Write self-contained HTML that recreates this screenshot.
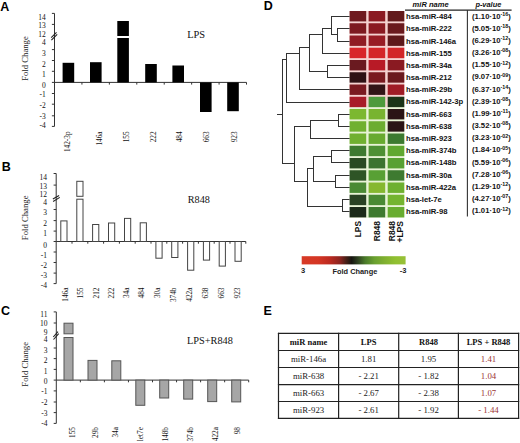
<!DOCTYPE html>
<html><head><meta charset="utf-8"><title>Figure</title>
<style>html,body{margin:0;padding:0;background:#fff;}body{width:520px;height:443px;overflow:hidden;font-family:"Liberation Sans",sans-serif;}svg{display:block}</style>
</head><body>
<svg width="520" height="443" viewBox="0 0 520 443">
<rect x="0" y="0" width="520" height="443" fill="#fff"/>
<text x="0.20" y="10.50" font-family='"Liberation Sans", sans-serif' font-size="12.5" font-weight="bold" text-anchor="start" fill="#000">A</text>
<text x="1.80" y="170.60" font-family='"Liberation Sans", sans-serif' font-size="12.5" font-weight="bold" text-anchor="start" fill="#000">B</text>
<text x="1.00" y="314.50" font-family='"Liberation Sans", sans-serif' font-size="12.5" font-weight="bold" text-anchor="start" fill="#000">C</text>
<text x="263.80" y="9.90" font-family='"Liberation Sans", sans-serif' font-size="12.5" font-weight="bold" text-anchor="start" fill="#000">D</text>
<text x="263.40" y="314.90" font-family='"Liberation Sans", sans-serif' font-size="12.5" font-weight="bold" text-anchor="start" fill="#000">E</text>
<line x1="54.50" y1="13.40" x2="54.50" y2="126.40" stroke="#333" stroke-width="1"/>
<line x1="51.90" y1="13.40" x2="54.50" y2="13.40" stroke="#333" stroke-width="1"/>
<line x1="51.90" y1="24.40" x2="54.50" y2="24.40" stroke="#333" stroke-width="1"/>
<line x1="51.90" y1="49.60" x2="54.50" y2="49.60" stroke="#333" stroke-width="1"/>
<line x1="51.90" y1="60.50" x2="54.50" y2="60.50" stroke="#333" stroke-width="1"/>
<line x1="51.90" y1="71.30" x2="54.50" y2="71.30" stroke="#333" stroke-width="1"/>
<line x1="51.90" y1="82.40" x2="54.50" y2="82.40" stroke="#333" stroke-width="1"/>
<line x1="51.90" y1="93.50" x2="54.50" y2="93.50" stroke="#333" stroke-width="1"/>
<line x1="51.90" y1="104.20" x2="54.50" y2="104.20" stroke="#333" stroke-width="1"/>
<line x1="51.90" y1="115.80" x2="54.50" y2="115.80" stroke="#333" stroke-width="1"/>
<line x1="51.90" y1="126.40" x2="54.50" y2="126.40" stroke="#333" stroke-width="1"/>
<text x="45.80" y="19.60" font-family='"Liberation Serif", serif' font-size="7.5" font-weight="normal" text-anchor="end" fill="#111">14</text>
<text x="45.80" y="28.20" font-family='"Liberation Serif", serif' font-size="7.5" font-weight="normal" text-anchor="end" fill="#111">13</text>
<text x="45.80" y="36.80" font-family='"Liberation Serif", serif' font-size="7.5" font-weight="normal" text-anchor="end" fill="#111">12</text>
<text x="45.80" y="45.40" font-family='"Liberation Serif", serif' font-size="7.5" font-weight="normal" text-anchor="end" fill="#111">4</text>
<text x="45.80" y="56.30" font-family='"Liberation Serif", serif' font-size="7.5" font-weight="normal" text-anchor="end" fill="#111">3</text>
<text x="45.80" y="66.80" font-family='"Liberation Serif", serif' font-size="7.5" font-weight="normal" text-anchor="end" fill="#111">2</text>
<text x="45.80" y="77.40" font-family='"Liberation Serif", serif' font-size="7.5" font-weight="normal" text-anchor="end" fill="#111">1</text>
<text x="45.80" y="87.50" font-family='"Liberation Serif", serif' font-size="7.5" font-weight="normal" text-anchor="end" fill="#111">0</text>
<text x="45.80" y="97.40" font-family='"Liberation Serif", serif' font-size="7.5" font-weight="normal" text-anchor="end" fill="#111">-1</text>
<text x="45.80" y="108.10" font-family='"Liberation Serif", serif' font-size="7.5" font-weight="normal" text-anchor="end" fill="#111">-2</text>
<text x="45.80" y="118.80" font-family='"Liberation Serif", serif' font-size="7.5" font-weight="normal" text-anchor="end" fill="#111">-3</text>
<text x="45.80" y="128.40" font-family='"Liberation Serif", serif' font-size="7.5" font-weight="normal" text-anchor="end" fill="#111">-4</text>
<line x1="51.20" y1="37.70" x2="56.50" y2="32.40" stroke="#222" stroke-width="1.1"/>
<line x1="51.40" y1="40.20" x2="57.20" y2="34.40" stroke="#222" stroke-width="1.1"/>
<text transform="translate(28.30,58.50) rotate(-90)" font-family='"Liberation Serif", serif' font-size="8.7" text-anchor="middle" fill="#1a1a1a">Fold Change</text>
<line x1="54.50" y1="82.40" x2="246.51" y2="82.40" stroke="#333" stroke-width="1"/>
<line x1="81.93" y1="82.40" x2="81.93" y2="84.60" stroke="#333" stroke-width="1"/>
<line x1="109.36" y1="82.40" x2="109.36" y2="84.60" stroke="#333" stroke-width="1"/>
<line x1="136.79" y1="82.40" x2="136.79" y2="84.60" stroke="#333" stroke-width="1"/>
<line x1="164.22" y1="82.40" x2="164.22" y2="84.60" stroke="#333" stroke-width="1"/>
<line x1="191.65" y1="82.40" x2="191.65" y2="84.60" stroke="#333" stroke-width="1"/>
<line x1="219.08" y1="82.40" x2="219.08" y2="84.60" stroke="#333" stroke-width="1"/>
<line x1="246.51" y1="82.40" x2="246.51" y2="84.60" stroke="#333" stroke-width="1"/>
<rect x="62.60" y="62.80" width="11.60" height="19.60" fill="#000"/>
<rect x="90.00" y="62.20" width="11.60" height="20.20" fill="#000"/>
<rect x="117.30" y="21.00" width="11.60" height="15.00" fill="#000"/>
<rect x="117.30" y="38.00" width="11.60" height="44.40" fill="#000"/>
<rect x="145.20" y="64.00" width="11.60" height="18.40" fill="#000"/>
<rect x="172.40" y="65.50" width="11.60" height="16.90" fill="#000"/>
<rect x="200.00" y="82.40" width="11.60" height="29.60" fill="#000"/>
<rect x="227.20" y="82.40" width="11.60" height="28.80" fill="#000"/>
<text x="187.20" y="37.60" font-family='"Liberation Serif", serif' font-size="10.4" font-weight="normal" text-anchor="start" fill="#111">LPS</text>
<text transform="translate(69.90,131.40) rotate(-90)" font-family='"Liberation Serif", serif' font-size="7.3" font-weight="normal" text-anchor="end" fill="#111">142-3p</text>
<text transform="translate(101.80,131.40) rotate(-90)" font-family='"Liberation Serif", serif' font-size="7.3" font-weight="normal" text-anchor="end" fill="#111">146a</text>
<text transform="translate(128.60,131.40) rotate(-90)" font-family='"Liberation Serif", serif' font-size="7.3" font-weight="normal" text-anchor="end" fill="#111">155</text>
<text transform="translate(155.50,131.40) rotate(-90)" font-family='"Liberation Serif", serif' font-size="7.3" font-weight="normal" text-anchor="end" fill="#111">222</text>
<text transform="translate(182.20,131.40) rotate(-90)" font-family='"Liberation Serif", serif' font-size="7.3" font-weight="normal" text-anchor="end" fill="#111">484</text>
<text transform="translate(209.30,131.40) rotate(-90)" font-family='"Liberation Serif", serif' font-size="7.3" font-weight="normal" text-anchor="end" fill="#111">663</text>
<text transform="translate(236.50,131.40) rotate(-90)" font-family='"Liberation Serif", serif' font-size="7.3" font-weight="normal" text-anchor="end" fill="#111">923</text>
<line x1="56.20" y1="173.50" x2="56.20" y2="283.60" stroke="#333" stroke-width="1"/>
<line x1="53.60" y1="173.50" x2="56.20" y2="173.50" stroke="#333" stroke-width="1"/>
<line x1="53.60" y1="185.10" x2="56.20" y2="185.10" stroke="#333" stroke-width="1"/>
<line x1="53.60" y1="209.50" x2="56.20" y2="209.50" stroke="#333" stroke-width="1"/>
<line x1="53.60" y1="220.60" x2="56.20" y2="220.60" stroke="#333" stroke-width="1"/>
<line x1="53.60" y1="231.10" x2="56.20" y2="231.10" stroke="#333" stroke-width="1"/>
<line x1="53.60" y1="241.50" x2="56.20" y2="241.50" stroke="#333" stroke-width="1"/>
<line x1="53.60" y1="252.00" x2="56.20" y2="252.00" stroke="#333" stroke-width="1"/>
<line x1="53.60" y1="262.50" x2="56.20" y2="262.50" stroke="#333" stroke-width="1"/>
<line x1="53.60" y1="273.10" x2="56.20" y2="273.10" stroke="#333" stroke-width="1"/>
<line x1="53.60" y1="283.60" x2="56.20" y2="283.60" stroke="#333" stroke-width="1"/>
<text x="47.00" y="180.00" font-family='"Liberation Serif", serif' font-size="7.5" font-weight="normal" text-anchor="end" fill="#111">14</text>
<text x="47.00" y="188.70" font-family='"Liberation Serif", serif' font-size="7.5" font-weight="normal" text-anchor="end" fill="#111">13</text>
<text x="47.00" y="196.90" font-family='"Liberation Serif", serif' font-size="7.5" font-weight="normal" text-anchor="end" fill="#111">12</text>
<text x="47.00" y="205.20" font-family='"Liberation Serif", serif' font-size="7.5" font-weight="normal" text-anchor="end" fill="#111">4</text>
<text x="47.00" y="214.60" font-family='"Liberation Serif", serif' font-size="7.5" font-weight="normal" text-anchor="end" fill="#111">3</text>
<text x="47.00" y="226.30" font-family='"Liberation Serif", serif' font-size="7.5" font-weight="normal" text-anchor="end" fill="#111">2</text>
<text x="47.00" y="236.40" font-family='"Liberation Serif", serif' font-size="7.5" font-weight="normal" text-anchor="end" fill="#111">1</text>
<text x="47.00" y="247.50" font-family='"Liberation Serif", serif' font-size="7.5" font-weight="normal" text-anchor="end" fill="#111">0</text>
<text x="47.00" y="257.60" font-family='"Liberation Serif", serif' font-size="7.5" font-weight="normal" text-anchor="end" fill="#111">-1</text>
<text x="47.00" y="267.80" font-family='"Liberation Serif", serif' font-size="7.5" font-weight="normal" text-anchor="end" fill="#111">-2</text>
<text x="47.00" y="278.30" font-family='"Liberation Serif", serif' font-size="7.5" font-weight="normal" text-anchor="end" fill="#111">-3</text>
<text x="47.00" y="288.10" font-family='"Liberation Serif", serif' font-size="7.5" font-weight="normal" text-anchor="end" fill="#111">-4</text>
<line x1="52.90" y1="199.00" x2="59.10" y2="195.40" stroke="#222" stroke-width="1.1"/>
<line x1="53.10" y1="201.50" x2="59.80" y2="197.40" stroke="#222" stroke-width="1.1"/>
<text transform="translate(28.20,217.80) rotate(-90)" font-family='"Liberation Serif", serif' font-size="8.7" text-anchor="middle" fill="#1a1a1a">Fold Change</text>
<line x1="56.20" y1="241.50" x2="245.80" y2="241.50" stroke="#333" stroke-width="1"/>
<line x1="72.00" y1="241.50" x2="72.00" y2="243.70" stroke="#333" stroke-width="1"/>
<line x1="87.80" y1="241.50" x2="87.80" y2="243.70" stroke="#333" stroke-width="1"/>
<line x1="103.60" y1="241.50" x2="103.60" y2="243.70" stroke="#333" stroke-width="1"/>
<line x1="119.40" y1="241.50" x2="119.40" y2="243.70" stroke="#333" stroke-width="1"/>
<line x1="135.20" y1="241.50" x2="135.20" y2="243.70" stroke="#333" stroke-width="1"/>
<line x1="151.00" y1="241.50" x2="151.00" y2="243.70" stroke="#333" stroke-width="1"/>
<line x1="166.80" y1="241.50" x2="166.80" y2="243.70" stroke="#333" stroke-width="1"/>
<line x1="182.60" y1="241.50" x2="182.60" y2="243.70" stroke="#333" stroke-width="1"/>
<line x1="198.40" y1="241.50" x2="198.40" y2="243.70" stroke="#333" stroke-width="1"/>
<line x1="214.20" y1="241.50" x2="214.20" y2="243.70" stroke="#333" stroke-width="1"/>
<line x1="230.00" y1="241.50" x2="230.00" y2="243.70" stroke="#333" stroke-width="1"/>
<line x1="245.80" y1="241.50" x2="245.80" y2="243.70" stroke="#333" stroke-width="1"/>
<rect x="60.80" y="220.90" width="6.20" height="20.60" fill="#fff" stroke="#444" stroke-width="1"/>
<rect x="76.80" y="181.30" width="6.20" height="15.00" fill="#fff" stroke="#444" stroke-width="1"/>
<rect x="76.80" y="199.20" width="6.20" height="42.30" fill="#fff" stroke="#444" stroke-width="1"/>
<rect x="92.60" y="224.50" width="6.20" height="17.00" fill="#fff" stroke="#444" stroke-width="1"/>
<rect x="108.50" y="223.00" width="6.20" height="18.50" fill="#fff" stroke="#444" stroke-width="1"/>
<rect x="124.50" y="218.40" width="6.20" height="23.10" fill="#fff" stroke="#444" stroke-width="1"/>
<rect x="140.20" y="222.80" width="6.20" height="18.70" fill="#fff" stroke="#444" stroke-width="1"/>
<rect x="155.90" y="241.50" width="6.20" height="16.70" fill="#fff" stroke="#444" stroke-width="1"/>
<rect x="171.70" y="241.50" width="6.20" height="16.00" fill="#fff" stroke="#444" stroke-width="1"/>
<rect x="187.60" y="241.50" width="6.20" height="28.70" fill="#fff" stroke="#444" stroke-width="1"/>
<rect x="203.40" y="241.50" width="6.20" height="18.60" fill="#fff" stroke="#444" stroke-width="1"/>
<rect x="219.20" y="241.50" width="6.20" height="24.60" fill="#fff" stroke="#444" stroke-width="1"/>
<rect x="235.00" y="241.50" width="6.20" height="19.80" fill="#fff" stroke="#444" stroke-width="1"/>
<text x="187.80" y="203.00" font-family='"Liberation Serif", serif' font-size="10.2" font-weight="normal" text-anchor="start" fill="#111">R848</text>
<text transform="translate(67.50,287.50) rotate(-90)" font-family='"Liberation Serif", serif' font-size="7.3" font-weight="normal" text-anchor="end" fill="#111">146a</text>
<text transform="translate(82.90,287.50) rotate(-90)" font-family='"Liberation Serif", serif' font-size="7.3" font-weight="normal" text-anchor="end" fill="#111">155</text>
<text transform="translate(99.40,287.50) rotate(-90)" font-family='"Liberation Serif", serif' font-size="7.3" font-weight="normal" text-anchor="end" fill="#111">212</text>
<text transform="translate(114.40,287.50) rotate(-90)" font-family='"Liberation Serif", serif' font-size="7.3" font-weight="normal" text-anchor="end" fill="#111">222</text>
<text transform="translate(128.70,287.50) rotate(-90)" font-family='"Liberation Serif", serif' font-size="7.3" font-weight="normal" text-anchor="end" fill="#111">34a</text>
<text transform="translate(144.20,287.50) rotate(-90)" font-family='"Liberation Serif", serif' font-size="7.3" font-weight="normal" text-anchor="end" fill="#111">484</text>
<text transform="translate(160.20,287.50) rotate(-90)" font-family='"Liberation Serif", serif' font-size="7.3" font-weight="normal" text-anchor="end" fill="#111">30a</text>
<text transform="translate(176.00,287.50) rotate(-90)" font-family='"Liberation Serif", serif' font-size="7.3" font-weight="normal" text-anchor="end" fill="#111">374b</text>
<text transform="translate(192.00,287.50) rotate(-90)" font-family='"Liberation Serif", serif' font-size="7.3" font-weight="normal" text-anchor="end" fill="#111">422a</text>
<text transform="translate(207.90,287.50) rotate(-90)" font-family='"Liberation Serif", serif' font-size="7.3" font-weight="normal" text-anchor="end" fill="#111">638</text>
<text transform="translate(224.00,287.50) rotate(-90)" font-family='"Liberation Serif", serif' font-size="7.3" font-weight="normal" text-anchor="end" fill="#111">663</text>
<text transform="translate(239.90,287.50) rotate(-90)" font-family='"Liberation Serif", serif' font-size="7.3" font-weight="normal" text-anchor="end" fill="#111">923</text>
<line x1="56.30" y1="311.90" x2="56.30" y2="423.40" stroke="#333" stroke-width="1"/>
<line x1="53.70" y1="311.90" x2="56.30" y2="311.90" stroke="#333" stroke-width="1"/>
<line x1="53.70" y1="323.00" x2="56.30" y2="323.00" stroke="#333" stroke-width="1"/>
<line x1="53.70" y1="348.00" x2="56.30" y2="348.00" stroke="#333" stroke-width="1"/>
<line x1="53.70" y1="358.60" x2="56.30" y2="358.60" stroke="#333" stroke-width="1"/>
<line x1="53.70" y1="369.40" x2="56.30" y2="369.40" stroke="#333" stroke-width="1"/>
<line x1="53.70" y1="380.10" x2="56.30" y2="380.10" stroke="#333" stroke-width="1"/>
<line x1="53.70" y1="390.90" x2="56.30" y2="390.90" stroke="#333" stroke-width="1"/>
<line x1="53.70" y1="402.00" x2="56.30" y2="402.00" stroke="#333" stroke-width="1"/>
<line x1="53.70" y1="412.60" x2="56.30" y2="412.60" stroke="#333" stroke-width="1"/>
<line x1="53.70" y1="423.40" x2="56.30" y2="423.40" stroke="#333" stroke-width="1"/>
<text x="47.50" y="317.20" font-family='"Liberation Serif", serif' font-size="7.5" font-weight="normal" text-anchor="end" fill="#111">11</text>
<text x="47.50" y="325.90" font-family='"Liberation Serif", serif' font-size="7.5" font-weight="normal" text-anchor="end" fill="#111">10</text>
<text x="47.50" y="334.90" font-family='"Liberation Serif", serif' font-size="7.5" font-weight="normal" text-anchor="end" fill="#111">9</text>
<text x="47.50" y="341.80" font-family='"Liberation Serif", serif' font-size="7.5" font-weight="normal" text-anchor="end" fill="#111">4</text>
<text x="47.50" y="352.60" font-family='"Liberation Serif", serif' font-size="7.5" font-weight="normal" text-anchor="end" fill="#111">3</text>
<text x="47.50" y="362.90" font-family='"Liberation Serif", serif' font-size="7.5" font-weight="normal" text-anchor="end" fill="#111">2</text>
<text x="47.50" y="373.80" font-family='"Liberation Serif", serif' font-size="7.5" font-weight="normal" text-anchor="end" fill="#111">1</text>
<text x="47.50" y="383.70" font-family='"Liberation Serif", serif' font-size="7.5" font-weight="normal" text-anchor="end" fill="#111">0</text>
<text x="47.50" y="394.40" font-family='"Liberation Serif", serif' font-size="7.5" font-weight="normal" text-anchor="end" fill="#111">-1</text>
<text x="47.50" y="405.00" font-family='"Liberation Serif", serif' font-size="7.5" font-weight="normal" text-anchor="end" fill="#111">-2</text>
<text x="47.50" y="415.80" font-family='"Liberation Serif", serif' font-size="7.5" font-weight="normal" text-anchor="end" fill="#111">-3</text>
<text x="47.50" y="425.50" font-family='"Liberation Serif", serif' font-size="7.5" font-weight="normal" text-anchor="end" fill="#111">-4</text>
<line x1="53.30" y1="337.00" x2="58.00" y2="331.70" stroke="#222" stroke-width="1.1"/>
<line x1="53.50" y1="339.50" x2="58.70" y2="333.70" stroke="#222" stroke-width="1.1"/>
<text transform="translate(28.20,364.30) rotate(-90)" font-family='"Liberation Serif", serif' font-size="8.7" text-anchor="middle" fill="#1a1a1a">Fold Change</text>
<line x1="56.30" y1="380.10" x2="248.70" y2="380.10" stroke="#333" stroke-width="1"/>
<line x1="80.35" y1="380.10" x2="80.35" y2="382.30" stroke="#333" stroke-width="1"/>
<line x1="104.40" y1="380.10" x2="104.40" y2="382.30" stroke="#333" stroke-width="1"/>
<line x1="128.45" y1="380.10" x2="128.45" y2="382.30" stroke="#333" stroke-width="1"/>
<line x1="152.50" y1="380.10" x2="152.50" y2="382.30" stroke="#333" stroke-width="1"/>
<line x1="176.55" y1="380.10" x2="176.55" y2="382.30" stroke="#333" stroke-width="1"/>
<line x1="200.60" y1="380.10" x2="200.60" y2="382.30" stroke="#333" stroke-width="1"/>
<line x1="224.65" y1="380.10" x2="224.65" y2="382.30" stroke="#333" stroke-width="1"/>
<line x1="248.70" y1="380.10" x2="248.70" y2="382.30" stroke="#333" stroke-width="1"/>
<rect x="64.00" y="323.20" width="9.00" height="10.60" fill="#a6a6a6" stroke="#555" stroke-width="1"/>
<rect x="64.00" y="337.50" width="9.00" height="42.60" fill="#a6a6a6" stroke="#555" stroke-width="1"/>
<rect x="88.00" y="360.40" width="9.00" height="19.70" fill="#a6a6a6" stroke="#555" stroke-width="1"/>
<rect x="111.80" y="360.80" width="9.00" height="19.30" fill="#a6a6a6" stroke="#555" stroke-width="1"/>
<rect x="135.80" y="380.10" width="9.00" height="25.20" fill="#a6a6a6" stroke="#555" stroke-width="1"/>
<rect x="159.70" y="380.10" width="9.00" height="17.90" fill="#a6a6a6" stroke="#555" stroke-width="1"/>
<rect x="183.70" y="380.10" width="9.00" height="19.00" fill="#a6a6a6" stroke="#555" stroke-width="1"/>
<rect x="207.70" y="380.10" width="9.00" height="21.50" fill="#a6a6a6" stroke="#555" stroke-width="1"/>
<rect x="231.70" y="380.10" width="9.00" height="21.80" fill="#a6a6a6" stroke="#555" stroke-width="1"/>
<text x="187.00" y="343.80" font-family='"Liberation Serif", serif' font-size="10.3" font-weight="normal" text-anchor="start" fill="#111">LPS+R848</text>
<text transform="translate(75.40,427.00) rotate(-90)" font-family='"Liberation Serif", serif' font-size="7.3" font-weight="normal" text-anchor="end" fill="#111">155</text>
<text transform="translate(97.50,427.00) rotate(-90)" font-family='"Liberation Serif", serif' font-size="7.3" font-weight="normal" text-anchor="end" fill="#111">29b</text>
<text transform="translate(118.00,427.00) rotate(-90)" font-family='"Liberation Serif", serif' font-size="7.3" font-weight="normal" text-anchor="end" fill="#111">34a</text>
<text transform="translate(143.10,427.00) rotate(-90)" font-family='"Liberation Serif", serif' font-size="7.3" font-weight="normal" text-anchor="end" fill="#111">let7e</text>
<text transform="translate(167.80,427.00) rotate(-90)" font-family='"Liberation Serif", serif' font-size="7.3" font-weight="normal" text-anchor="end" fill="#111">148b</text>
<text transform="translate(192.70,427.00) rotate(-90)" font-family='"Liberation Serif", serif' font-size="7.3" font-weight="normal" text-anchor="end" fill="#111">374b</text>
<text transform="translate(218.00,427.00) rotate(-90)" font-family='"Liberation Serif", serif' font-size="7.3" font-weight="normal" text-anchor="end" fill="#111">422a</text>
<text transform="translate(240.40,427.00) rotate(-90)" font-family='"Liberation Serif", serif' font-size="7.3" font-weight="normal" text-anchor="end" fill="#111">98</text>
<rect x="349.60" y="11.00" width="54.70" height="97.00" fill="#f4d2d0"/>
<rect x="349.60" y="107.10" width="54.70" height="110.75" fill="#e8f3d6"/>
<rect x="349.60" y="11.00" width="16.60" height="10.40" fill="#6f1a1f"/>
<rect x="368.60" y="11.00" width="16.60" height="10.40" fill="#8b1a22"/>
<rect x="387.70" y="11.00" width="16.60" height="10.40" fill="#621a1c"/>
<rect x="349.60" y="23.25" width="16.60" height="10.40" fill="#7d1a20"/>
<rect x="368.60" y="23.25" width="16.60" height="10.40" fill="#8a1a22"/>
<rect x="387.70" y="23.25" width="16.60" height="10.40" fill="#6a1a1e"/>
<rect x="349.60" y="35.50" width="16.60" height="10.40" fill="#901c24"/>
<rect x="368.60" y="35.50" width="16.60" height="10.40" fill="#981c24"/>
<rect x="387.70" y="35.50" width="16.60" height="10.40" fill="#5e181a"/>
<rect x="349.60" y="47.75" width="16.60" height="10.40" fill="#d8262a"/>
<rect x="368.60" y="47.75" width="16.60" height="10.40" fill="#d42628"/>
<rect x="387.70" y="47.75" width="16.60" height="10.40" fill="#d22628"/>
<rect x="349.60" y="60.00" width="16.60" height="10.40" fill="#6a1a20"/>
<rect x="368.60" y="60.00" width="16.60" height="10.40" fill="#b81a26"/>
<rect x="387.70" y="60.00" width="16.60" height="10.40" fill="#8a1a22"/>
<rect x="349.60" y="72.25" width="16.60" height="10.40" fill="#2e1214"/>
<rect x="368.60" y="72.25" width="16.60" height="10.40" fill="#7a1a20"/>
<rect x="387.70" y="72.25" width="16.60" height="10.40" fill="#6a1a1e"/>
<rect x="349.60" y="84.50" width="16.60" height="10.40" fill="#7a1a20"/>
<rect x="368.60" y="84.50" width="16.60" height="10.40" fill="#321416"/>
<rect x="387.70" y="84.50" width="16.60" height="10.40" fill="#a01c26"/>
<rect x="349.60" y="96.75" width="16.60" height="10.40" fill="#a81c28"/>
<rect x="368.60" y="96.75" width="16.60" height="10.40" fill="#4e9a3c"/>
<rect x="387.70" y="96.75" width="16.60" height="10.40" fill="#1c3418"/>
<rect x="349.60" y="109.00" width="16.60" height="10.40" fill="#7cb830"/>
<rect x="368.60" y="109.00" width="16.60" height="10.40" fill="#78b430"/>
<rect x="387.70" y="109.00" width="16.60" height="10.40" fill="#2a1416"/>
<rect x="349.60" y="121.25" width="16.60" height="10.40" fill="#70b030"/>
<rect x="368.60" y="121.25" width="16.60" height="10.40" fill="#6cac30"/>
<rect x="387.70" y="121.25" width="16.60" height="10.40" fill="#2a1416"/>
<rect x="349.60" y="133.50" width="16.60" height="10.40" fill="#70b030"/>
<rect x="368.60" y="133.50" width="16.60" height="10.40" fill="#68aa30"/>
<rect x="387.70" y="133.50" width="16.60" height="10.40" fill="#3c7a30"/>
<rect x="349.60" y="145.75" width="16.60" height="10.40" fill="#3e7a30"/>
<rect x="368.60" y="145.75" width="16.60" height="10.40" fill="#4e9034"/>
<rect x="387.70" y="145.75" width="16.60" height="10.40" fill="#60a830"/>
<rect x="349.60" y="158.00" width="16.60" height="10.40" fill="#2a4a22"/>
<rect x="368.60" y="158.00" width="16.60" height="10.40" fill="#3c7430"/>
<rect x="387.70" y="158.00" width="16.60" height="10.40" fill="#58a032"/>
<rect x="349.60" y="170.25" width="16.60" height="10.40" fill="#2e5426"/>
<rect x="368.60" y="170.25" width="16.60" height="10.40" fill="#58a034"/>
<rect x="387.70" y="170.25" width="16.60" height="10.40" fill="#3e7a30"/>
<rect x="349.60" y="182.50" width="16.60" height="10.40" fill="#4a8a34"/>
<rect x="368.60" y="182.50" width="16.60" height="10.40" fill="#86b830"/>
<rect x="387.70" y="182.50" width="16.60" height="10.40" fill="#6eb030"/>
<rect x="349.60" y="194.75" width="16.60" height="10.40" fill="#2a4224"/>
<rect x="368.60" y="194.75" width="16.60" height="10.40" fill="#4a8a34"/>
<rect x="387.70" y="194.75" width="16.60" height="10.40" fill="#74b430"/>
<rect x="349.60" y="207.00" width="16.60" height="10.40" fill="#1c2a1a"/>
<rect x="368.60" y="207.00" width="16.60" height="10.40" fill="#3e7a30"/>
<rect x="387.70" y="207.00" width="16.60" height="10.40" fill="#68ac30"/>
<text x="406.00" y="19.30" font-family='"Liberation Sans", sans-serif' font-size="7.7" font-weight="bold" text-anchor="start" fill="#111">hsa-miR-484</text>
<text x="471.9" y="18.60" font-family='"Liberation Sans", sans-serif' font-size="7.2" font-weight="bold" fill="#111" textLength="39.0" lengthAdjust="spacingAndGlyphs">(1.10·10<tspan font-size="5" dy="-2.7">-16</tspan><tspan dy="2.7">)</tspan></text>
<text x="406.00" y="31.47" font-family='"Liberation Sans", sans-serif' font-size="7.7" font-weight="bold" text-anchor="start" fill="#111">hsa-miR-222</text>
<text x="471.9" y="30.77" font-family='"Liberation Sans", sans-serif' font-size="7.2" font-weight="bold" fill="#111" textLength="39.0" lengthAdjust="spacingAndGlyphs">(5.05·10<tspan font-size="5" dy="-2.7">-18</tspan><tspan dy="2.7">)</tspan></text>
<text x="406.00" y="43.64" font-family='"Liberation Sans", sans-serif' font-size="7.7" font-weight="bold" text-anchor="start" fill="#111">hsa-miR-146a</text>
<text x="471.9" y="42.94" font-family='"Liberation Sans", sans-serif' font-size="7.2" font-weight="bold" fill="#111" textLength="39.0" lengthAdjust="spacingAndGlyphs">(6.29·10<tspan font-size="5" dy="-2.7">-12</tspan><tspan dy="2.7">)</tspan></text>
<text x="406.00" y="55.81" font-family='"Liberation Sans", sans-serif' font-size="7.7" font-weight="bold" text-anchor="start" fill="#111">hsa-miR-155</text>
<text x="471.9" y="55.11" font-family='"Liberation Sans", sans-serif' font-size="7.2" font-weight="bold" fill="#111" textLength="39.0" lengthAdjust="spacingAndGlyphs">(3.26·10<tspan font-size="5" dy="-2.7">-08</tspan><tspan dy="2.7">)</tspan></text>
<text x="406.00" y="67.98" font-family='"Liberation Sans", sans-serif' font-size="7.7" font-weight="bold" text-anchor="start" fill="#111">hsa-miR-34a</text>
<text x="471.9" y="67.28" font-family='"Liberation Sans", sans-serif' font-size="7.2" font-weight="bold" fill="#111" textLength="39.0" lengthAdjust="spacingAndGlyphs">(1.55·10<tspan font-size="5" dy="-2.7">-12</tspan><tspan dy="2.7">)</tspan></text>
<text x="406.00" y="80.15" font-family='"Liberation Sans", sans-serif' font-size="7.7" font-weight="bold" text-anchor="start" fill="#111">hsa-miR-212</text>
<text x="471.9" y="79.45" font-family='"Liberation Sans", sans-serif' font-size="7.2" font-weight="bold" fill="#111" textLength="39.0" lengthAdjust="spacingAndGlyphs">(9.07·10<tspan font-size="5" dy="-2.7">-09</tspan><tspan dy="2.7">)</tspan></text>
<text x="406.00" y="92.32" font-family='"Liberation Sans", sans-serif' font-size="7.7" font-weight="bold" text-anchor="start" fill="#111">hsa-miR-29b</text>
<text x="471.9" y="91.62" font-family='"Liberation Sans", sans-serif' font-size="7.2" font-weight="bold" fill="#111" textLength="39.0" lengthAdjust="spacingAndGlyphs">(6.37·10<tspan font-size="5" dy="-2.7">-14</tspan><tspan dy="2.7">)</tspan></text>
<text x="406.00" y="104.49" font-family='"Liberation Sans", sans-serif' font-size="7.7" font-weight="bold" text-anchor="start" fill="#111">hsa-miR-142-3p</text>
<text x="471.9" y="103.79" font-family='"Liberation Sans", sans-serif' font-size="7.2" font-weight="bold" fill="#111" textLength="39.0" lengthAdjust="spacingAndGlyphs">(2.39·10<tspan font-size="5" dy="-2.7">-08</tspan><tspan dy="2.7">)</tspan></text>
<text x="406.00" y="116.66" font-family='"Liberation Sans", sans-serif' font-size="7.7" font-weight="bold" text-anchor="start" fill="#111">hsa-miR-663</text>
<text x="471.9" y="115.96" font-family='"Liberation Sans", sans-serif' font-size="7.2" font-weight="bold" fill="#111" textLength="39.0" lengthAdjust="spacingAndGlyphs">(1.99·10<tspan font-size="5" dy="-2.7">-11</tspan><tspan dy="2.7">)</tspan></text>
<text x="406.00" y="128.83" font-family='"Liberation Sans", sans-serif' font-size="7.7" font-weight="bold" text-anchor="start" fill="#111">hsa-miR-638</text>
<text x="471.9" y="128.13" font-family='"Liberation Sans", sans-serif' font-size="7.2" font-weight="bold" fill="#111" textLength="39.0" lengthAdjust="spacingAndGlyphs">(3.52·10<tspan font-size="5" dy="-2.7">-08</tspan><tspan dy="2.7">)</tspan></text>
<text x="406.00" y="141.00" font-family='"Liberation Sans", sans-serif' font-size="7.7" font-weight="bold" text-anchor="start" fill="#111">hsa-miR-923</text>
<text x="471.9" y="140.30" font-family='"Liberation Sans", sans-serif' font-size="7.2" font-weight="bold" fill="#111" textLength="39.0" lengthAdjust="spacingAndGlyphs">(3.23·10<tspan font-size="5" dy="-2.7">-02</tspan><tspan dy="2.7">)</tspan></text>
<text x="406.00" y="153.17" font-family='"Liberation Sans", sans-serif' font-size="7.7" font-weight="bold" text-anchor="start" fill="#111">hsa-miR-374b</text>
<text x="471.9" y="152.47" font-family='"Liberation Sans", sans-serif' font-size="7.2" font-weight="bold" fill="#111" textLength="39.0" lengthAdjust="spacingAndGlyphs">(1.84·10<tspan font-size="5" dy="-2.7">-05</tspan><tspan dy="2.7">)</tspan></text>
<text x="406.00" y="165.34" font-family='"Liberation Sans", sans-serif' font-size="7.7" font-weight="bold" text-anchor="start" fill="#111">hsa-miR-148b</text>
<text x="471.9" y="164.64" font-family='"Liberation Sans", sans-serif' font-size="7.2" font-weight="bold" fill="#111" textLength="39.0" lengthAdjust="spacingAndGlyphs">(5.59·10<tspan font-size="5" dy="-2.7">-06</tspan><tspan dy="2.7">)</tspan></text>
<text x="406.00" y="177.51" font-family='"Liberation Sans", sans-serif' font-size="7.7" font-weight="bold" text-anchor="start" fill="#111">hsa-miR-30a</text>
<text x="471.9" y="176.81" font-family='"Liberation Sans", sans-serif' font-size="7.2" font-weight="bold" fill="#111" textLength="39.0" lengthAdjust="spacingAndGlyphs">(7.28·10<tspan font-size="5" dy="-2.7">-06</tspan><tspan dy="2.7">)</tspan></text>
<text x="406.00" y="189.68" font-family='"Liberation Sans", sans-serif' font-size="7.7" font-weight="bold" text-anchor="start" fill="#111">hsa-miR-422a</text>
<text x="471.9" y="188.98" font-family='"Liberation Sans", sans-serif' font-size="7.2" font-weight="bold" fill="#111" textLength="39.0" lengthAdjust="spacingAndGlyphs">(1.29·10<tspan font-size="5" dy="-2.7">-12</tspan><tspan dy="2.7">)</tspan></text>
<text x="406.00" y="201.85" font-family='"Liberation Sans", sans-serif' font-size="7.7" font-weight="bold" text-anchor="start" fill="#111">hsa-let-7e</text>
<text x="471.9" y="201.15" font-family='"Liberation Sans", sans-serif' font-size="7.2" font-weight="bold" fill="#111" textLength="39.0" lengthAdjust="spacingAndGlyphs">(4.27·10<tspan font-size="5" dy="-2.7">-07</tspan><tspan dy="2.7">)</tspan></text>
<text x="406.00" y="214.02" font-family='"Liberation Sans", sans-serif' font-size="7.7" font-weight="bold" text-anchor="start" fill="#111">hsa-miR-98</text>
<text x="471.9" y="213.32" font-family='"Liberation Sans", sans-serif' font-size="7.2" font-weight="bold" fill="#111" textLength="39.0" lengthAdjust="spacingAndGlyphs">(1.01·10<tspan font-size="5" dy="-2.7">-12</tspan><tspan dy="2.7">)</tspan></text>
<text x="412.60" y="7.00" font-family='"Liberation Sans", sans-serif' font-size="7.4" font-weight="bold" text-anchor="start" fill="#111" textLength="36.0" lengthAdjust="spacingAndGlyphs" font-style="italic">miR name</text>
<text x="475.40" y="7.00" font-family='"Liberation Sans", sans-serif' font-size="7.4" font-weight="bold" text-anchor="start" fill="#111" font-style="italic">p-value</text>
<line x1="405.00" y1="10.10" x2="511.60" y2="10.10" stroke="#222" stroke-width="1.2"/>
<line x1="467.40" y1="10.10" x2="467.40" y2="216.60" stroke="#333" stroke-width="1.1"/>
<line x1="331.00" y1="16.50" x2="349.60" y2="16.50" stroke="#333" stroke-width="1"/>
<line x1="337.00" y1="28.50" x2="349.60" y2="28.50" stroke="#333" stroke-width="1"/>
<line x1="337.00" y1="41.50" x2="349.60" y2="41.50" stroke="#333" stroke-width="1"/>
<line x1="337.50" y1="28.00" x2="337.50" y2="42.00" stroke="#333" stroke-width="1"/>
<line x1="331.00" y1="34.50" x2="337.70" y2="34.50" stroke="#333" stroke-width="1"/>
<line x1="331.50" y1="16.00" x2="331.50" y2="35.00" stroke="#333" stroke-width="1"/>
<line x1="322.00" y1="28.50" x2="331.60" y2="28.50" stroke="#333" stroke-width="1"/>
<line x1="322.00" y1="53.50" x2="349.60" y2="53.50" stroke="#333" stroke-width="1"/>
<line x1="322.50" y1="28.00" x2="322.50" y2="54.00" stroke="#333" stroke-width="1"/>
<line x1="309.00" y1="34.50" x2="322.40" y2="34.50" stroke="#333" stroke-width="1"/>
<line x1="327.00" y1="65.50" x2="349.60" y2="65.50" stroke="#333" stroke-width="1"/>
<line x1="327.00" y1="77.50" x2="349.60" y2="77.50" stroke="#333" stroke-width="1"/>
<line x1="327.50" y1="65.00" x2="327.50" y2="78.00" stroke="#333" stroke-width="1"/>
<line x1="309.00" y1="71.50" x2="327.00" y2="71.50" stroke="#333" stroke-width="1"/>
<line x1="309.50" y1="34.00" x2="309.50" y2="72.00" stroke="#333" stroke-width="1"/>
<line x1="299.00" y1="47.50" x2="309.60" y2="47.50" stroke="#333" stroke-width="1"/>
<line x1="299.00" y1="89.50" x2="349.60" y2="89.50" stroke="#333" stroke-width="1"/>
<line x1="299.50" y1="47.00" x2="299.50" y2="90.00" stroke="#333" stroke-width="1"/>
<line x1="286.00" y1="53.50" x2="299.70" y2="53.50" stroke="#333" stroke-width="1"/>
<line x1="286.00" y1="102.50" x2="349.60" y2="102.50" stroke="#333" stroke-width="1"/>
<line x1="286.50" y1="53.00" x2="286.50" y2="103.00" stroke="#333" stroke-width="1"/>
<line x1="282.00" y1="59.50" x2="286.30" y2="59.50" stroke="#333" stroke-width="1"/>
<line x1="338.00" y1="114.50" x2="349.60" y2="114.50" stroke="#333" stroke-width="1"/>
<line x1="338.00" y1="126.50" x2="349.60" y2="126.50" stroke="#333" stroke-width="1"/>
<line x1="338.50" y1="114.00" x2="338.50" y2="127.00" stroke="#333" stroke-width="1"/>
<line x1="310.00" y1="120.50" x2="338.70" y2="120.50" stroke="#333" stroke-width="1"/>
<line x1="310.00" y1="138.50" x2="349.60" y2="138.50" stroke="#333" stroke-width="1"/>
<line x1="310.50" y1="120.00" x2="310.50" y2="139.00" stroke="#333" stroke-width="1"/>
<line x1="294.00" y1="126.50" x2="310.70" y2="126.50" stroke="#333" stroke-width="1"/>
<line x1="331.00" y1="150.50" x2="349.60" y2="150.50" stroke="#333" stroke-width="1"/>
<line x1="331.00" y1="162.50" x2="349.60" y2="162.50" stroke="#333" stroke-width="1"/>
<line x1="331.50" y1="150.00" x2="331.50" y2="163.00" stroke="#333" stroke-width="1"/>
<line x1="313.00" y1="156.50" x2="331.80" y2="156.50" stroke="#333" stroke-width="1"/>
<line x1="335.00" y1="175.50" x2="349.60" y2="175.50" stroke="#333" stroke-width="1"/>
<line x1="335.00" y1="187.50" x2="349.60" y2="187.50" stroke="#333" stroke-width="1"/>
<line x1="335.50" y1="175.00" x2="335.50" y2="188.00" stroke="#333" stroke-width="1"/>
<line x1="313.00" y1="181.50" x2="335.20" y2="181.50" stroke="#333" stroke-width="1"/>
<line x1="313.50" y1="156.00" x2="313.50" y2="182.00" stroke="#333" stroke-width="1"/>
<line x1="307.00" y1="168.50" x2="313.60" y2="168.50" stroke="#333" stroke-width="1"/>
<line x1="342.00" y1="199.50" x2="349.60" y2="199.50" stroke="#333" stroke-width="1"/>
<line x1="342.00" y1="211.50" x2="349.60" y2="211.50" stroke="#333" stroke-width="1"/>
<line x1="342.50" y1="199.00" x2="342.50" y2="212.00" stroke="#333" stroke-width="1"/>
<line x1="307.00" y1="206.50" x2="342.30" y2="206.50" stroke="#333" stroke-width="1"/>
<line x1="307.50" y1="168.00" x2="307.50" y2="207.00" stroke="#333" stroke-width="1"/>
<line x1="294.00" y1="181.50" x2="307.20" y2="181.50" stroke="#333" stroke-width="1"/>
<line x1="294.50" y1="126.00" x2="294.50" y2="182.00" stroke="#333" stroke-width="1"/>
<line x1="282.00" y1="163.50" x2="294.40" y2="163.50" stroke="#333" stroke-width="1"/>
<line x1="282.50" y1="59.00" x2="282.50" y2="164.00" stroke="#333" stroke-width="1"/>
<line x1="277.00" y1="114.50" x2="282.90" y2="114.50" stroke="#333" stroke-width="1"/>
<text transform="translate(361.10,221.00) rotate(-90)" font-family='"Liberation Sans", sans-serif' font-size="8.9" font-weight="bold" text-anchor="end" fill="#111" textLength="16.3" lengthAdjust="spacingAndGlyphs">LPS</text>
<text transform="translate(379.90,221.00) rotate(-90)" font-family='"Liberation Sans", sans-serif' font-size="8.9" font-weight="bold" text-anchor="end" fill="#111" textLength="20.2" lengthAdjust="spacingAndGlyphs">R848</text>
<text transform="translate(394.70,221.00) rotate(-90)" font-family='"Liberation Sans", sans-serif' font-size="8.9" font-weight="bold" text-anchor="end" fill="#111" textLength="20.2" lengthAdjust="spacingAndGlyphs">R848</text>
<text transform="translate(403.00,221.00) rotate(-90)" font-family='"Liberation Sans", sans-serif' font-size="8.9" font-weight="bold" text-anchor="end" fill="#111" textLength="21.6" lengthAdjust="spacingAndGlyphs">+LPS</text>
<defs><linearGradient id="g" x1="0" x2="1" y1="0" y2="0"><stop offset="0" stop-color="#d83a26"/><stop offset="0.16" stop-color="#d43624"/><stop offset="0.27" stop-color="#bc2a20"/><stop offset="0.37" stop-color="#8a2420"/><stop offset="0.42" stop-color="#502018"/><stop offset="0.48" stop-color="#161610"/><stop offset="0.54" stop-color="#2e4020"/><stop offset="0.61" stop-color="#4a7a2a"/><stop offset="0.70" stop-color="#6aa030"/><stop offset="0.80" stop-color="#80b030"/><stop offset="0.90" stop-color="#90c030"/><stop offset="1" stop-color="#98c038"/></linearGradient></defs>
<rect x="301.70" y="256.20" width="103.90" height="8.20" fill="url(#g)"/>
<text x="301.00" y="272.60" font-family='"Liberation Sans", sans-serif' font-size="7.5" font-weight="bold" text-anchor="start" fill="#222">3</text>
<text x="332.50" y="273.90" font-family='"Liberation Sans", sans-serif' font-size="7.4" font-weight="bold" text-anchor="start" fill="#222">Fold Change</text>
<text x="399.80" y="272.60" font-family='"Liberation Sans", sans-serif' font-size="7.5" font-weight="bold" text-anchor="start" fill="#222">-3</text>
<line x1="278.50" y1="332.80" x2="278.50" y2="418.80" stroke="#222" stroke-width="1.2"/>
<line x1="338.60" y1="332.80" x2="338.60" y2="418.80" stroke="#222" stroke-width="1.2"/>
<line x1="398.70" y1="332.80" x2="398.70" y2="418.80" stroke="#222" stroke-width="1.2"/>
<line x1="458.40" y1="332.80" x2="458.40" y2="418.80" stroke="#222" stroke-width="1.2"/>
<line x1="518.60" y1="332.80" x2="518.60" y2="418.80" stroke="#222" stroke-width="1.2"/>
<line x1="277.90" y1="333.30" x2="519.20" y2="333.30" stroke="#222" stroke-width="1.2"/>
<line x1="277.90" y1="350.50" x2="519.20" y2="350.50" stroke="#222" stroke-width="1.2"/>
<line x1="277.90" y1="367.50" x2="519.20" y2="367.50" stroke="#222" stroke-width="1.2"/>
<line x1="277.90" y1="384.60" x2="519.20" y2="384.60" stroke="#222" stroke-width="1.2"/>
<line x1="277.90" y1="401.50" x2="519.20" y2="401.50" stroke="#222" stroke-width="1.2"/>
<line x1="277.90" y1="418.30" x2="519.20" y2="418.30" stroke="#222" stroke-width="1.2"/>
<text x="308.55" y="345.00" font-family='"Liberation Serif", serif' font-size="8.5" font-weight="bold" text-anchor="middle" fill="#111">miR name</text>
<text x="368.65" y="345.00" font-family='"Liberation Serif", serif' font-size="8.5" font-weight="bold" text-anchor="middle" fill="#111">LPS</text>
<text x="428.55" y="345.00" font-family='"Liberation Serif", serif' font-size="8.5" font-weight="bold" text-anchor="middle" fill="#111">R848</text>
<text x="488.50" y="345.00" font-family='"Liberation Serif", serif' font-size="8.5" font-weight="bold" text-anchor="middle" fill="#111">LPS + R848</text>
<text x="308.55" y="362.00" font-family='"Liberation Serif", serif' font-size="8.8" font-weight="normal" text-anchor="middle" fill="#222">miR-146a</text>
<text x="368.65" y="362.00" font-family='"Liberation Serif", serif' font-size="8.8" font-weight="normal" text-anchor="middle" fill="#222">1.81</text>
<text x="428.55" y="362.00" font-family='"Liberation Serif", serif' font-size="8.8" font-weight="normal" text-anchor="middle" fill="#222">1.95</text>
<text x="488.50" y="362.00" font-family='"Liberation Serif", serif' font-size="8.8" font-weight="normal" text-anchor="middle" fill="#9c3434">1.41</text>
<text x="308.55" y="379.05" font-family='"Liberation Serif", serif' font-size="8.8" font-weight="normal" text-anchor="middle" fill="#222">miR-638</text>
<text x="368.65" y="379.05" font-family='"Liberation Serif", serif' font-size="8.8" font-weight="normal" text-anchor="middle" fill="#222">- 2.21</text>
<text x="428.55" y="379.05" font-family='"Liberation Serif", serif' font-size="8.8" font-weight="normal" text-anchor="middle" fill="#222">- 1.82</text>
<text x="488.50" y="379.05" font-family='"Liberation Serif", serif' font-size="8.8" font-weight="normal" text-anchor="middle" fill="#9c3434">1.04</text>
<text x="308.55" y="396.05" font-family='"Liberation Serif", serif' font-size="8.8" font-weight="normal" text-anchor="middle" fill="#222">miR-663</text>
<text x="368.65" y="396.05" font-family='"Liberation Serif", serif' font-size="8.8" font-weight="normal" text-anchor="middle" fill="#222">- 2.67</text>
<text x="428.55" y="396.05" font-family='"Liberation Serif", serif' font-size="8.8" font-weight="normal" text-anchor="middle" fill="#222">- 2.38</text>
<text x="488.50" y="396.05" font-family='"Liberation Serif", serif' font-size="8.8" font-weight="normal" text-anchor="middle" fill="#9c3434">1.07</text>
<text x="308.55" y="412.90" font-family='"Liberation Serif", serif' font-size="8.8" font-weight="normal" text-anchor="middle" fill="#222">miR-923</text>
<text x="368.65" y="412.90" font-family='"Liberation Serif", serif' font-size="8.8" font-weight="normal" text-anchor="middle" fill="#222">- 2.61</text>
<text x="428.55" y="412.90" font-family='"Liberation Serif", serif' font-size="8.8" font-weight="normal" text-anchor="middle" fill="#222">- 1.92</text>
<text x="488.50" y="412.90" font-family='"Liberation Serif", serif' font-size="8.8" font-weight="normal" text-anchor="middle" fill="#9c3434">- 1.44</text>
</svg>
</body></html>
